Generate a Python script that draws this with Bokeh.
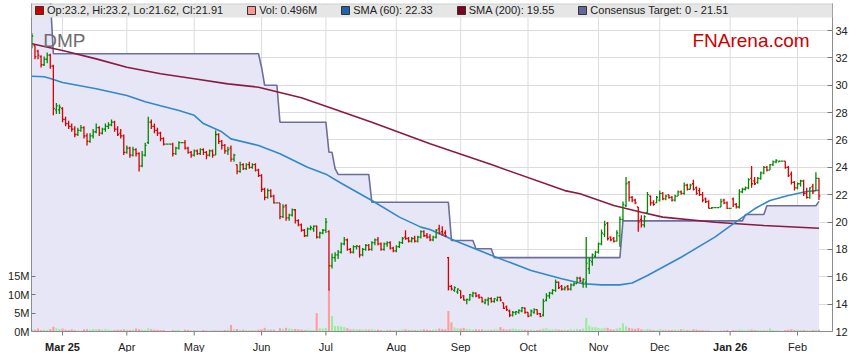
import numpy as np
import pandas as pd
from bokeh.plotting import figure
from bokeh.models import (Range1d, LinearAxis, FixedTicker, Label, BoxAnnotation, Span,
                          Legend, LegendItem, ColumnDataSource)
from bokeh.core.properties import value, field
from bokeh.embed import file_html
from bokeh.resources import INLINE

# ---------------- data ----------------
dates = pd.bdate_range("2025-02-17", "2026-02-11")  # weekday axis

month_labels = ["Mar 25", "Apr", "May", "Jun", "Jul", "Aug", "Sep", "Oct",
                "Nov", "Dec", "Jan 26", "Feb"]

open_ = [
    32.9, 32.9, 32.5, 32.1, 31.5, 31.9, 32.2, 31.4, 28.2, 28.2,
    28.3, 27.5, 27.2, 27.0, 26.8, 26.4, 26.7, 26.9, 26.3, 25.9,
    26.3, 26.6, 26.9, 26.5, 26.8, 27.0, 27.1, 27.3, 26.8, 26.5,
    26.3, 25.1, 25.4, 24.9, 25.3, 25.0, 24.1, 24.9, 25.8, 27.3,
    27.0, 26.7, 26.5, 26.1, 25.7, 25.7, 25.7, 25.0, 25.4, 25.8,
    25.8, 25.4, 25.1, 24.9, 25.2, 25.0, 25.3, 25.1, 24.9, 25.2,
    24.9, 26.4, 25.9, 25.6, 25.2, 25.4, 24.6, 24.2, 23.7, 24.2,
    23.9, 24.2, 24.0, 24.2, 23.8, 23.4, 22.4, 21.8, 22.3, 21.9,
    21.4, 21.4, 20.4, 21.2, 20.3, 20.5, 20.9, 20.1, 19.8, 19.4,
    19.0, 19.5, 19.5, 19.7, 18.9, 19.2, 19.4, 19.3, 16.8, 17.4,
    17.6, 17.8, 18.4, 18.7, 18.0, 17.8, 18.2, 18.2, 17.6, 18.0,
    18.3, 18.0, 18.5, 18.7, 18.4, 18.0, 18.4, 18.5, 18.1, 17.9,
    18.2, 18.5, 18.9, 18.8, 18.6, 18.8, 18.6, 18.9, 19.3, 19.0,
    18.9, 18.7, 18.9, 19.5, 19.3, 19.2, 17.4, 15.3, 15.0, 14.9,
    15.0, 14.6, 14.3, 14.3, 14.6, 14.8, 14.6, 14.5, 14.1, 14.3,
    14.4, 14.2, 14.3, 14.5, 14.1, 13.8, 13.5, 13.2, 13.4, 13.4,
    13.5, 13.7, 13.4, 13.2, 13.4, 13.6, 13.3, 13.2, 14.3, 14.6,
    14.8, 15.0, 15.6, 15.3, 15.1, 15.3, 15.1, 15.4, 15.5, 15.9,
    15.6, 15.6, 16.6, 17.1, 17.5, 17.8, 18.4, 19.1, 19.9, 18.9,
    18.8, 18.6, 19.0, 20.2, 21.2, 22.9, 21.8, 21.6, 21.1, 20.2,
    19.8, 20.7, 21.9, 21.4, 21.4, 21.6, 22.1, 21.7, 22.0, 21.8,
    21.6, 21.9, 22.2, 22.1, 22.7, 22.4, 22.8, 22.5, 22.3, 22.0,
    21.7, 21.5, 21.0, 21.05, 21.05, 21.1, 21.6, 21.4, 21.0, 21.7,
    21.3, 21.1, 22.2, 22.4, 22.5, 23.2, 23.0, 22.9, 23.2, 23.6,
    24.0, 23.8, 24.2, 24.4, 24.4, 24.45, 24.45, 24.0, 23.5, 22.9,
    22.5, 22.8, 23.0, 22.1, 21.8, 22.6, 22.3, 23.2]

high = [
    33.8, 32.9, 32.6, 32.2, 32.1, 32.4, 32.3, 31.5, 28.7, 28.6,
    28.4, 27.7, 27.4, 27.2, 27.0, 26.9, 27.1, 27.0, 26.5, 26.5,
    26.8, 27.2, 27.0, 26.9, 27.2, 27.3, 27.5, 27.4, 27.0, 26.8,
    26.4, 25.6, 25.5, 25.5, 25.4, 25.1, 25.2, 25.8, 27.7, 27.5,
    27.2, 26.9, 26.6, 26.2, 25.7, 25.7, 25.8, 25.5, 25.9, 25.8,
    26.0, 25.5, 25.2, 25.3, 25.3, 25.4, 25.4, 25.2, 25.3, 25.3,
    26.7, 26.5, 26.0, 25.7, 25.5, 25.6, 25.0, 24.2, 24.4, 24.3,
    24.3, 24.4, 24.3, 24.3, 23.9, 23.5, 22.5, 22.45, 22.4, 22.0,
    21.4, 21.4, 21.3, 21.3, 20.6, 21.0, 20.95, 20.2, 19.9, 19.5,
    19.6, 19.75, 19.75, 19.75, 19.3, 19.5, 20.3, 19.4, 17.7, 17.8,
    17.95, 18.5, 18.9, 18.8, 18.1, 18.3, 18.3, 18.3, 18.1, 18.4,
    18.4, 18.6, 18.8, 18.9, 18.5, 18.5, 18.6, 18.6, 18.2, 18.3,
    18.6, 18.9, 19.4, 18.9, 18.9, 19.0, 19.0, 19.4, 19.4, 19.2,
    19.1, 19.0, 19.5, 19.8, 19.7, 19.4, 17.45, 15.4, 15.3, 15.15,
    15.0, 14.65, 14.4, 14.75, 14.9, 14.85, 14.75, 14.5, 14.4, 14.5,
    14.5, 14.45, 14.55, 14.55, 14.1, 13.9, 13.6, 13.5, 13.5, 13.6,
    13.8, 13.75, 13.4, 13.6, 13.7, 13.6, 13.35, 14.4, 14.8, 14.9,
    15.1, 15.8, 15.65, 15.4, 15.3, 15.4, 15.5, 15.6, 16.0, 16.0,
    15.9, 18.9, 17.4, 17.7, 17.9, 18.5, 19.45, 20.1, 20.0, 18.95,
    18.9, 19.4, 20.4, 21.5, 23.3, 23.0, 21.9, 21.7, 21.1, 20.5,
    20.5, 22.2, 21.95, 21.6, 21.9, 22.3, 22.2, 22.0, 22.0, 21.9,
    22.0, 22.3, 22.3, 22.9, 22.8, 22.8, 23.1, 22.6, 22.5, 22.2,
    21.8, 21.6, 21.1, 21.05, 21.05, 21.7, 21.7, 21.5, 21.0, 21.8,
    21.4, 22.4, 22.5, 22.6, 23.2, 24.1, 23.3, 23.3, 23.7, 24.1,
    24.1, 24.25, 24.5, 24.6, 24.5, 24.45, 24.45, 24.1, 23.7, 23.0,
    22.9, 23.1, 23.1, 22.5, 22.55, 22.8, 23.65, 23.2]

low = [
    32.7, 31.9, 31.9, 31.3, 31.4, 31.6, 31.2, 27.8, 27.9, 27.9,
    27.3, 27.0, 26.8, 26.6, 26.2, 26.3, 26.6, 26.1, 25.6, 25.8,
    26.1, 26.5, 26.3, 26.4, 26.6, 26.8, 27.0, 26.6, 26.3, 26.1,
    24.9, 25.0, 24.7, 24.8, 24.8, 23.7, 24.0, 24.8, 25.7, 26.8,
    26.5, 26.3, 25.9, 25.6, 25.7, 25.7, 24.8, 24.9, 25.3, 25.8,
    25.3, 25.0, 24.7, 24.8, 24.9, 24.9, 24.9, 24.6, 24.8, 24.7,
    24.9, 25.7, 25.3, 25.0, 24.9, 24.4, 24.4, 23.5, 23.6, 23.8,
    23.8, 23.9, 23.9, 23.7, 23.3, 22.2, 21.6, 21.7, 21.8, 21.36,
    21.4, 20.2, 20.3, 20.1, 20.1, 20.4, 19.9, 19.7, 19.3, 18.9,
    18.95, 19.4, 19.3, 18.8, 18.8, 19.1, 19.2, 15.0, 16.6, 17.1,
    17.3, 17.7, 18.3, 17.9, 17.7, 17.7, 18.0, 17.4, 17.5, 17.9,
    17.9, 17.9, 18.3, 18.3, 17.9, 17.9, 18.2, 18.0, 17.8, 17.8,
    18.1, 18.4, 18.7, 18.5, 18.5, 18.5, 18.5, 18.8, 18.9, 18.8,
    18.6, 18.6, 18.8, 19.1, 19.0, 18.9, 15.0, 15.0, 14.9, 14.75,
    14.4, 14.27, 14.0, 14.27, 14.5, 14.5, 14.4, 14.1, 14.0, 13.9,
    14.1, 14.1, 14.2, 14.2, 13.65, 13.5, 13.05, 13.1, 13.2, 13.3,
    13.4, 13.3, 13.05, 13.1, 13.3, 13.2, 13.05, 13.1, 14.2, 14.4,
    14.7, 14.9, 15.1, 15.0, 15.0, 15.0, 15.0, 15.3, 15.5, 15.6,
    15.2, 15.2, 16.2, 16.8, 17.4, 17.7, 18.3, 18.9, 18.65, 18.6,
    18.5, 18.6, 18.2, 20.1, 21.1, 21.5, 21.45, 21.3, 19.3, 19.6,
    19.6, 20.6, 21.2, 21.2, 21.4, 21.5, 21.6, 21.6, 21.7, 21.5,
    21.5, 21.9, 22.0, 22.0, 22.3, 22.4, 22.3, 22.0, 21.9, 21.45,
    21.4, 21.0, 20.95, 21.05, 21.05, 21.1, 21.3, 20.95, 21.0, 21.1,
    21.0, 21.0, 22.1, 22.3, 22.4, 22.5, 22.7, 22.8, 23.1, 23.5,
    23.7, 23.8, 24.1, 24.3, 24.4, 24.45, 23.9, 23.3, 22.75, 22.3,
    22.4, 22.6, 21.9, 21.7, 21.7, 22.05, 22.3, 21.62]

close = [
    33.6, 32.1, 32.2, 31.5, 31.9, 32.2, 31.4, 28.3, 28.5, 28.4,
    27.5, 27.2, 27.0, 26.8, 26.4, 26.7, 26.9, 26.3, 25.9, 26.3,
    26.6, 26.9, 26.5, 26.8, 27.0, 27.1, 27.3, 26.8, 26.4, 26.3,
    25.1, 25.4, 24.9, 25.3, 25.0, 24.1, 24.9, 25.6, 27.3, 27.0,
    26.7, 26.5, 26.1, 25.7, 25.7, 25.7, 25.0, 25.4, 25.8, 25.8,
    25.4, 25.1, 24.9, 25.2, 25.0, 25.3, 25.1, 24.9, 25.2, 24.9,
    26.4, 25.9, 25.6, 25.2, 25.3, 24.6, 24.9, 23.7, 24.2, 23.9,
    24.2, 24.0, 24.2, 23.8, 23.4, 22.4, 21.8, 22.3, 21.9, 21.4,
    21.4, 20.4, 21.1, 20.3, 20.5, 20.9, 20.1, 19.8, 19.4, 19.0,
    19.5, 19.6, 19.7, 18.9, 19.2, 19.4, 20.0, 16.8, 17.4, 17.6,
    17.8, 18.4, 18.7, 18.0, 17.8, 18.2, 18.25, 17.6, 18.0, 18.3,
    18.0, 18.5, 18.7, 18.4, 18.0, 18.4, 18.5, 18.1, 17.9, 18.2,
    18.5, 18.8, 18.8, 18.6, 18.8, 18.6, 18.9, 19.3, 19.0, 18.9,
    18.7, 18.9, 19.4, 19.2, 19.1, 19.0, 15.3, 15.1, 15.2, 15.1,
    14.5, 14.3, 14.35, 14.7, 14.8, 14.6, 14.5, 14.2, 14.3, 14.4,
    14.2, 14.4, 14.5, 14.3, 13.7, 13.6, 13.2, 13.4, 13.45, 13.55,
    13.75, 13.4, 13.1, 13.5, 13.6, 13.3, 13.1, 14.2, 14.6, 14.8,
    15.0, 15.6, 15.2, 15.1, 15.2, 15.1, 15.4, 15.5, 15.9, 15.7,
    15.8, 17.0, 17.2, 17.6, 17.8, 18.4, 19.2, 19.8, 18.8, 18.7,
    18.6, 19.2, 20.2, 21.3, 22.8, 21.8, 21.6, 21.4, 20.0, 19.8,
    20.4, 22.0, 21.4, 21.3, 21.8, 22.1, 21.7, 21.9, 21.8, 21.6,
    21.9, 22.2, 22.1, 22.7, 22.4, 22.7, 22.4, 22.1, 22.0, 21.6,
    21.5, 21.0, 21.05, 21.05, 21.05, 21.5, 21.4, 21.0, 21.0, 21.3,
    21.1, 22.2, 22.4, 22.5, 23.1, 22.8, 22.8, 23.2, 23.6, 24.0,
    23.8, 24.2, 24.4, 24.5, 24.45, 24.45, 24.0, 23.4, 22.9, 22.5,
    22.8, 23.0, 22.1, 21.8, 22.5, 22.2, 23.2, 21.91]

volume_m = [
    0.6, 0.5, 0.8, 0.4, 0.5, 0.4, 0.7, 1.3, 0.9, 0.7,
    0.8, 0.5, 0.4, 0.6, 0.4, 0.3, 0.2, 0.6, 0.6, 0.5,
    0.7, 0.6, 0.6, 0.5, 0.6, 0.5, 0.4, 0.4, 0.5, 0.5,
    0.6, 0.5, 0.4, 0.5, 0.8, 0.6, 0.5, 0.4, 0.9, 0.6,
    0.5, 0.5, 0.4, 0.4, 0.0, 0.0, 0.4, 0.4, 0.4, 0.0,
    0.5, 0.4, 0.3, 0.4, 0.3, 0.3, 0.4, 0.3, 0.3, 0.3,
    0.4, 0.3, 0.3, 0.4, 0.5, 1.8, 0.6, 0.7, 0.4, 0.5,
    0.4, 0.3, 0.4, 0.3, 0.5, 0.6, 1.0, 0.6, 0.5, 0.5,
    0.0, 0.9, 0.7, 1.0, 0.8, 0.7, 0.7, 0.6, 0.5, 0.4,
    0.5, 0.4, 0.4, 5.0, 0.9, 0.8, 1.0, 11.5, 4.2, 1.5,
    1.5, 1.4, 1.2, 0.9, 0.6, 0.7, 0.6, 0.5, 0.5, 0.6,
    0.5, 0.6, 0.4, 0.5, 0.4, 0.3, 0.5, 0.4, 0.3, 0.4,
    0.4, 0.5, 0.6, 0.4, 0.5, 0.4, 0.4, 0.5, 0.6, 0.5,
    0.4, 0.5, 0.6, 0.8, 0.7, 0.6, 5.6, 2.5, 1.1, 0.9,
    0.8, 1.0, 0.7, 0.6, 0.5, 0.6, 0.5, 0.6, 0.4, 0.5,
    0.4, 0.6, 0.5, 1.2, 0.7, 0.5, 0.6, 0.8, 0.7, 0.6,
    0.6, 0.5, 0.4, 0.5, 0.4, 0.4, 0.5, 0.8, 0.9, 0.6,
    0.5, 0.7, 0.5, 0.4, 0.5, 0.4, 0.6, 0.5, 0.7, 0.5,
    0.8, 3.7, 1.6, 1.2, 1.2, 1.0, 0.8, 1.0, 1.0, 0.6,
    0.5, 0.8, 1.0, 2.2, 1.4, 1.0, 0.8, 0.7, 0.9, 0.6,
    0.5, 0.7, 0.5, 0.4, 0.4, 0.6, 0.4, 0.5, 0.4, 0.4,
    0.5, 0.4, 0.6, 0.5, 0.4, 0.4, 0.6, 0.5, 0.4, 0.4,
    0.3, 0.3, 0.2, 0.0, 0.0, 0.3, 0.3, 0.4, 0.0, 0.4,
    0.3, 0.5, 0.4, 0.3, 0.5, 0.5, 0.4, 0.4, 0.3, 0.4,
    0.3, 0.8, 0.4, 0.3, 0.3, 0.0, 0.4, 0.5, 0.6, 0.4,
    0.5, 0.4, 0.4, 0.3, 0.3, 0.4, 0.5, 0.496]

# SMA lines: (day index, value) points
sma60_day = [0, 4, 6, 10, 21, 31, 37, 42, 48, 53, 56, 62, 65, 74, 81, 90, 96,
             101, 111, 120, 127, 130, 138, 151, 163, 173, 180, 186, 192, 196,
             201, 212, 223, 229, 236, 241, 247, 253, 257]
sma60_val = [30.66, 30.62, 30.5, 30.2, 29.74, 29.25, 28.8, 28.5, 28.15, 27.8,
             27.2, 26.6, 26.08, 25.6, 25.0, 24.0, 23.5, 22.84, 21.58, 20.36,
             19.63, 19.46, 18.65, 17.48, 16.46, 15.85, 15.49, 15.41, 15.41,
             15.55, 16.09, 17.43, 18.9, 19.87, 20.97, 21.58, 21.94, 22.23, 22.33]
sma200_day = [0, 10, 21, 31, 42, 53, 64, 74, 88, 100, 111, 130, 150, 174, 179,
              190, 199, 206, 223, 239, 257]
sma200_val = [33.03, 32.54, 31.93, 31.32, 30.84, 30.47, 30.1, 29.86, 29.08,
              28.15, 27.3, 25.72, 24.2, 22.3, 22.07, 21.21, 20.72, 20.36, 19.99,
              19.75, 19.55]

# consensus target: level and number of days it holds
target_levels = [36.5, 32.3, 31.3, 30.0, 27.3, 25.1, 23.9, 23.48, 21.45, 18.65,
                 18.05, 17.4, 20.09, 20.55, 21.19, 21.51]
target_days = [7, 68, 1, 5, 16, 2, 1, 11, 26, 8, 6, 42, 40, 7, 17, 1]

price_ticks = [12, 14, 16, 18, 20, 22, 24, 26, 28, 30, 32, 34]
vol_ticks = [0, 5, 10, 15]

legend_texts = ["Op:23.2, Hi:23.2, Lo:21.62, Cl:21.91", "Vol: 0.496M",
                "SMA (60): 22.33", "SMA (200): 19.55", "Consensus Target: 0 - 21.51"]

# ---------------- styling / geometry ----------------
FONT = "Liberation Sans"
PX_DAY = 3.0625          # pixels per trading day
PX_PRICE = 13.68         # pixels per 1.00 of price
PX_VOL = 3.667           # pixels per 1M volume
PLOT_H = 328             # height of the price/volume area
BELOW = 21               # space kept under the area for the date labels
FRAME_W, FRAME_H = 801, PLOT_H + BELOW
X0 = -0.13
Y_BASE = 12.0
Y_TOP = Y_BASE + PLOT_H / PX_PRICE
UP, DOWN = "#008A00", "#D80000"
VOL_UP, VOL_DOWN, VOL_FLAT = "#99EE99", "#FF9C9C", "#888888"
LAVENDER = "#E6E6F6"
TARGET_C = "#6E6E9E"
SMA60_C = "#3189C8"
SMA200_C = "#8B1A40"
GRID_C = "#DCDCDC"
AXIS_C = "#8C8C8C"
TXT_C = "#222222"

n = min(len(dates), len(open_), len(high), len(low), len(close), len(volume_m))
idx = np.arange(n)
o = np.array(open_[:n]); h = np.array(high[:n]); l = np.array(low[:n]); c = np.array(close[:n])
v = np.array(volume_m[:n])
bar_col = np.where(c >= o, UP, DOWN)
vol_col = np.where(c > o, VOL_UP, np.where(c < o, VOL_DOWN, VOL_FLAT))
target = np.repeat(target_levels, target_days)[:n]

month_idx = [i for i in range(1, n) if dates[i].month != dates[i - 1].month]

p = figure(frame_width=FRAME_W, frame_height=FRAME_H, output_backend="svg",
           toolbar_location=None, x_axis_location=None, y_axis_location="right",
           x_range=Range1d(X0, X0 + FRAME_W / PX_DAY),
           y_range=Range1d(Y_BASE - BELOW / PX_PRICE, Y_TOP),
           min_border_left=31, min_border_right=22, min_border_top=3, min_border_bottom=0,
           background_fill_color="white", border_fill_color="white",
           outline_line_color=None)
p.extra_y_ranges = {"vol": Range1d(-BELOW / PX_VOL, PLOT_H / PX_VOL)}

# horizontal grid
p.ygrid.ticker = FixedTicker(ticks=price_ticks)
p.ygrid.grid_line_color = GRID_C
p.xgrid.grid_line_color = None

# right price axis
ya = p.yaxis[0]
ya.ticker = FixedTicker(ticks=price_ticks)
ya.bounds = (Y_BASE, Y_TOP)
ya.major_tick_in = 5
ya.major_tick_out = 0
ya.major_label_standoff = 3

# left volume axis
va = LinearAxis(y_range_name="vol", ticker=FixedTicker(ticks=vol_ticks),
                major_label_overrides={t: f"{t}M" for t in vol_ticks})
va.bounds = (0, PLOT_H / PX_VOL)
va.major_tick_in = 4
va.major_tick_out = 0
va.major_label_standoff = 2
p.add_layout(va, "left")

for ax in (ya, va):
    ax.axis_line_color = AXIS_C
    ax.major_tick_line_color = "#777777"
    ax.minor_tick_line_color = None
    ax.major_label_text_font = FONT
    ax.major_label_text_font_size = "11px"
    ax.major_label_text_color = TXT_C

# vertical month grid lines (only over the chart area)
p.segment(x0=month_idx, y0=Y_BASE, x1=month_idx, y1=Y_TOP,
          line_color=GRID_C, line_width=1)

# consensus target area
p.varea(x=idx, y1=Y_BASE, y2=target, fill_color=LAVENDER)

# volume bars
vsrc = ColumnDataSource(dict(x=idx, v=v, color=vol_col))
p.vbar(x="x", top="v", bottom=0, width=0.68, y_range_name="vol", source=vsrc,
       fill_color="color", line_color=None)

p.line(idx, target, line_color=TARGET_C, line_width=1.6)
p.line(sma200_day, sma200_val, line_color=SMA200_C, line_width=1.6)
p.line(sma60_day, sma60_val, line_color=SMA60_C, line_width=1.6)

# OHLC bars
src = ColumnDataSource(dict(x=idx, xl=idx - 0.45, xr=idx + 0.45, o=o, h=h, l=l, c=c,
                            color=bar_col))
p.segment(x0="x", y0="l", x1="x", y1="h", line_color="color", line_width=1.3, source=src)
p.segment(x0="xl", y0="o", x1="x", y1="o", line_color="color", line_width=1.3, source=src)
p.segment(x0="x", y0="c", x1="xr", y1="c", line_color="color", line_width=1.3, source=src)

# bottom date axis, drawn inside the frame so two labels can be bold
p.add_layout(Span(location=Y_BASE, dimension="width", line_color=AXIS_C, line_width=1))
p.segment(x0=month_idx, y0=Y_BASE, x1=month_idx, y1=Y_BASE - 4 / PX_PRICE,
          line_color="#777777", line_width=1)
lab_src = ColumnDataSource(dict(
    x=month_idx, y=[Y_BASE - 15 / PX_PRICE] * len(month_idx), t=month_labels,
    style=["bold" if " " in lab else "normal" for lab in month_labels]))
p.text(x="x", y="y", text="t", source=lab_src, text_align="center",
       text_baseline="alphabetic", text_font=value(FONT), text_font_size=value("11px"),
       text_font_style=field("style"), text_color=TXT_C)

# top frame line and legend band
p.add_layout(Span(location=Y_TOP - 0.5 / PX_PRICE, dimension="width",
                  line_color="#A0A0A0", line_width=1))
p.add_layout(BoxAnnotation(bottom=Y_TOP - 14 / PX_PRICE, top=Y_TOP - 1 / PX_PRICE,
                           fill_color="#E6E6E6", fill_alpha=1.0, line_color=None))
legend_colors = ["#CC0000", "#FF9999", "#1F64A8", "#800024", "#66669A"]
items = []
for txt, col in zip(legend_texts, legend_colors):
    # legend swatch only: a single undrawable (NaN) quad carrying the colour
    r = p.quad(left=[np.nan], right=[np.nan], top=[np.nan], bottom=[np.nan],
               fill_color=col, line_color="#333333", line_width=1)
    items.append(LegendItem(label=txt, renderers=[r]))
legend = Legend(items=items, orientation="horizontal", location=(3, FRAME_H - 14),
                spacing=23, glyph_width=10, glyph_height=10, label_standoff=3,
                label_text_font=FONT, label_text_font_size="11px",
                label_text_color=TXT_C, label_height=14, padding=0, margin=0,
                background_fill_alpha=0, border_line_alpha=0)
p.add_layout(legend)

# titles inside the chart
p.add_layout(Label(x=3.7, y=33.27, text="DMP", text_font=FONT, text_font_size="19px",
                   text_color="#6E6E6E", text_baseline="alphabetic"))
p.add_layout(Label(x=215.7, y=33.27, text="FNArena.com", text_font=FONT,
                   text_font_size="19px", text_color="#CC0000", text_baseline="alphabetic"))

open("out.html", "w").write(file_html(p, INLINE))
